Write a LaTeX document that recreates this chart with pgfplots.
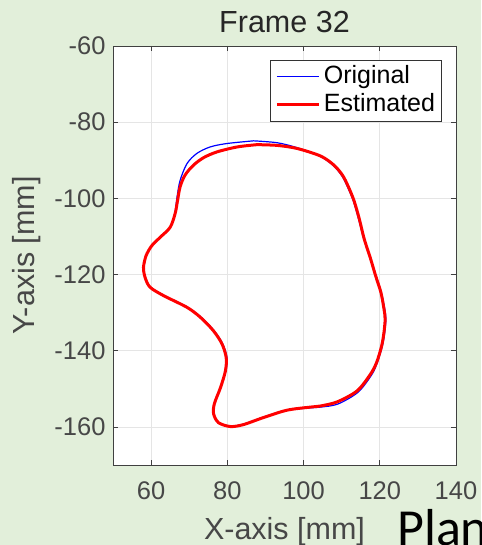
\documentclass[border=0pt]{standalone}
\usepackage{fontspec}
\setmainfont{Liberation Sans}
\newfontfamily\calibri{Carlito}
\usepackage{pgfplots}
\pgfplotsset{compat=1.18}
\definecolor{bggreen}{HTML}{E2EFDA}
\definecolor{axgray}{HTML}{404040}
\definecolor{txtgray}{HTML}{474747}
\begin{document}
\begin{tikzpicture}
\useasboundingbox (0,0) rectangle (481pt,545pt);
\clip (0,0) rectangle (481pt,545pt);
\fill[bggreen] (0,0) rectangle (481pt,545pt);
\begin{axis}[
  at={(113pt,80pt)}, anchor=south west,
  scale only axis, width=343pt, height=419pt,
  axis background/.style={fill=white},
  xmin=50, xmax=140, ymin=-170, ymax=-60,
  xtick={60,80,...,140}, ytick={-160,-140,...,-60},
  grid=major, grid style={color=black!10, line width=0.6pt},
  axis line style={color=axgray, line width=0.8pt},
  tick style={color=axgray, line width=0.8pt}, major tick length=5pt,
  tick align=inside,
  /pgf/number format/assume math mode=true,
  ticklabel style={font=\fontsize{25.5}{26}\selectfont, text=txtgray},
  xticklabel style={yshift=-13pt},
  yticklabel style={xshift=-4pt},
  xlabel={X-axis [mm]}, ylabel={Y-axis [mm]},
  label style={font=\fontsize{30.5}{31}\selectfont, text=txtgray},
  xlabel style={at={(axis description cs:0.5,-0.16)}, anchor=center},
  ylabel style={at={(axis description cs:-0.2507,0.5)}, anchor=center},
  title={Frame 32},
  title style={font=\fontsize{30.5}{31}\selectfont, text=black!85, yshift=4pt},
  legend cell align=left,
  legend image code/.code={\draw[#1] (0pt,0pt) -- (42pt,0pt);},
  legend style={at={(0.959,0.967)}, anchor=north east, draw=black!80, line width=0.8pt,
    fill=white, font=\fontsize{25}{26}\selectfont, inner xsep=5pt, inner ysep=2.5pt,
    nodes={inner sep=1.5pt, text height=19pt, text depth=6pt}, column sep=2pt},
]
\addplot[color=blue, line width=1.2pt, smooth] coordinates {
(86.9,-84.9) (93.1,-85.4) (98.3,-86.7) (104.3,-88.9) (107.8,-91.4) (110.0,-94.0) (111.4,-96.7) (113.0,-100.5) (114.4,-105.3) (115.8,-110.6) (117.6,-115.9) (119.0,-120.3) (120.4,-124.7) (121.3,-129.0) (121.6,-131.7) (121.3,-135.2) (120.7,-138.7) (119.4,-143.0) (117.9,-146.3) (114.3,-150.9) (109.0,-154.0) (104.5,-154.8) (101.8,-155.0) (95.7,-155.6) (89.6,-157.4) (84.2,-159.3) (80.8,-159.8) (77.7,-158.9) (76.4,-156.6) (76.6,-153.9) (78.2,-149.7) (79.6,-145.3) (79.9,-141.8) (78.8,-138.2) (76.5,-134.7) (73.0,-131.1) (69.4,-128.5) (63.2,-125.4) (59.7,-123.3) (58.4,-120.7) (58.0,-118.1) (58.7,-115.0) (60.2,-112.4) (62.5,-110.1) (65.0,-107.6) (66.2,-104.0) (66.8,-99.7) (67.6,-95.3) (69.4,-90.9) (72.0,-88.2) (75.5,-86.5) (79.9,-85.6) (86.9,-84.9)
};
\addlegendentry{Original}
\addplot[color=red, line width=3pt, smooth] coordinates {
(87.8,-85.9) (93.1,-86.1) (98.3,-86.9) (104.5,-88.9) (108.0,-91.3) (110.2,-93.9) (111.6,-96.6) (113.2,-100.5) (114.6,-105.3) (115.9,-110.6) (117.6,-115.9) (118.9,-120.3) (120.3,-124.7) (121.1,-129.0) (121.4,-131.7) (121.1,-135.2) (120.5,-138.7) (119.2,-143.0) (117.6,-146.1) (114.1,-150.5) (108.9,-153.4) (104.5,-154.5) (101.8,-154.8) (95.7,-155.6) (89.6,-157.5) (84.2,-159.4) (80.8,-159.9) (77.7,-158.9) (76.4,-156.6) (76.6,-153.9) (78.2,-149.7) (79.5,-145.3) (79.7,-141.8) (78.6,-138.2) (76.3,-134.7) (72.9,-131.2) (69.4,-128.6) (63.2,-125.5) (59.7,-123.3) (58.4,-120.7) (58.0,-118.1) (58.7,-115.0) (60.2,-112.4) (62.4,-110.2) (65.0,-107.6) (66.3,-104.0) (66.9,-100.8) (67.6,-97.0) (68.9,-93.9) (71.1,-91.3) (73.8,-89.3) (77.3,-87.8) (82.6,-86.5) (87.8,-85.9)
};
\addlegendentry{Estimated}
\end{axis}
\node[anchor=base west, inner sep=0pt, font=\calibri\fontsize{52}{52}\selectfont] at (397pt,0pt) {Plan};
\end{tikzpicture}
\end{document}
